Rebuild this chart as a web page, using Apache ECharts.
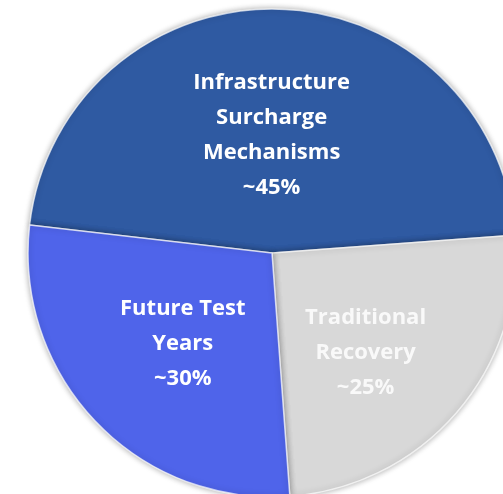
<!DOCTYPE html>
<html>
<head>
<meta charset="utf-8">
<script src="https://cdn.jsdelivr.net/npm/echarts@6/dist/echarts.min.js"></script>
<style>
html,body{margin:0;padding:0;background:#fff;}
#chart{width:503px;height:494px;}
</style>
</head>
<body>
<div id="chart"></div>
<script>
// Data
var categories = ['Infrastructure\nSurcharge\nMechanisms', 'Traditional\nRecovery', 'Future Test\nYears'];
var values = [47, 25, 28];
var labelTexts = ['~45%', '~25%', '~30%'];

var colors = ['#2F5AA2', '#D8D8D8', '#4F64EA'];
var labelColors = ['#FFFFFF', 'rgba(255,255,255,0.85)', '#FFFFFF'];
var labelDx = [-3, -1, 1];
var labelDy = [7, 18, 4];

var chart = echarts.init(document.getElementById('chart'), null, {renderer: 'canvas'});
chart.setOption({
  animation: false,
  series: [{
    type: 'pie',
    center: [272, 253],
    radius: [0, 244],
    startAngle: 173.4,
    clockwise: true,
    data: categories.map(function (c, i) {
      return {
        name: c,
        value: values[i],
        itemStyle: {color: colors[i]},
        label: {color: labelColors[i]}
      };
    }),
    itemStyle: {
      borderColor: 'rgba(255,255,255,0.7)',
      borderWidth: 1.5,
      shadowBlur: 6,
      shadowColor: 'rgba(0,0,0,0.35)'
    },
    label: {
      position: 'inside',
      formatter: function (p) { return p.name + '\n' + labelTexts[p.dataIndex]; },
      fontFamily: 'Open Sans',
      fontWeight: 'bold',
      fontSize: 22,
      lineHeight: 35,
      align: 'center'
    },
    labelLine: {show: false},
    labelLayout: function (params) {
      return {dx: labelDx[params.dataIndex], dy: labelDy[params.dataIndex]};
    },
    emphasis: {disabled: true}
  }]
});
</script>
</body>
</html>
